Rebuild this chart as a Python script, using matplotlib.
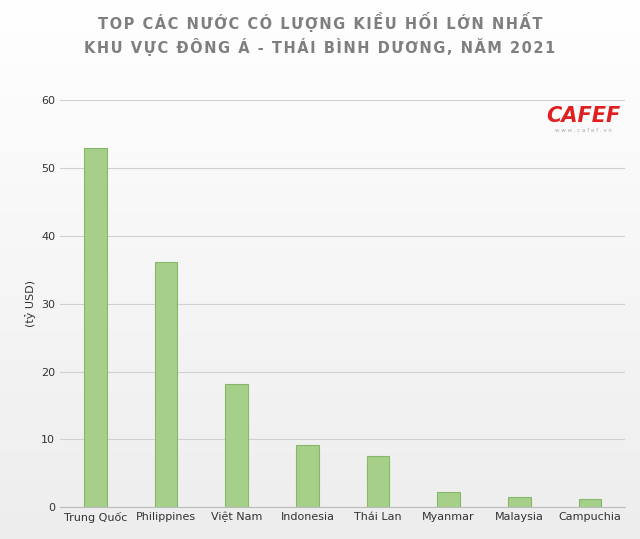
import matplotlib.pyplot as plt
import numpy as np

countries = ['Trung Quốc', 'Philippines', 'Việt Nam', 'Indonesia', 'Thái Lan', 'Myanmar', 'Malaysia', 'Campuchia']
values = [53.0, 36.2, 18.1, 9.2, 7.6, 2.2, 1.5, 1.2]

fig = plt.figure(figsize=(6.4, 5.39), dpi=100)
# soft gradient background
bg = fig.add_axes([0, 0, 1, 1], zorder=-10)
grad = np.linspace(1.0, 0.93, 256).reshape(-1, 1)
bg.imshow(np.dstack([grad, grad, grad]), aspect='auto', extent=[0, 1, 0, 1])
bg.axis('off')

ax = fig.add_axes([0.094, 0.059, 0.883, 0.755])
ax.patch.set_alpha(0)
x = np.arange(len(countries))
ax.bar(x, values, width=0.32, color='#a6cf8a', edgecolor='#86b86a', linewidth=0.8, zorder=3)
ax.set_ylim(0, 60)
ax.set_xlim(-0.5, len(countries) - 0.5)
ax.set_yticks(range(0, 61, 10))
ax.grid(axis='y', color='#d0d0d0', linewidth=0.8, zorder=0)
for s in ['top', 'right', 'left']:
    ax.spines[s].set_visible(False)
ax.spines['bottom'].set_color('#bbbbbb')
ax.tick_params(length=0, labelsize=8, colors='#333333')
ax.set_xticks(x)
ax.set_xticklabels(countries)
ax.set_ylabel('(tỷ USD)', fontsize=8, color='#333333')

def spaced(s):
    return '\u200a'.join(s)

fig.text(0.5, 0.959, spaced('TOP CÁC NƯỚC CÓ LƯỢNG KIỀU HỐI LỚN NHẤT'), ha='center', va='center',
         fontsize=10.5, fontweight='bold', color='#7f7f7f')
fig.text(0.5, 0.913, spaced('KHU VỰC ĐÔNG Á - THÁI BÌNH DƯƠNG, NĂM 2021'), ha='center', va='center',
         fontsize=10.5, fontweight='bold', color='#7f7f7f')
fig.text(0.912, 0.785, 'CAFEF', ha='center', va='center', fontsize=15, fontweight='bold',
         color='#e02020', style='italic')
fig.text(0.912, 0.757, 'w w w . c a f e f . v n', ha='center', va='center', fontsize=4, color='#aaaaaa')

fig.savefig('out.png', dpi=100)
